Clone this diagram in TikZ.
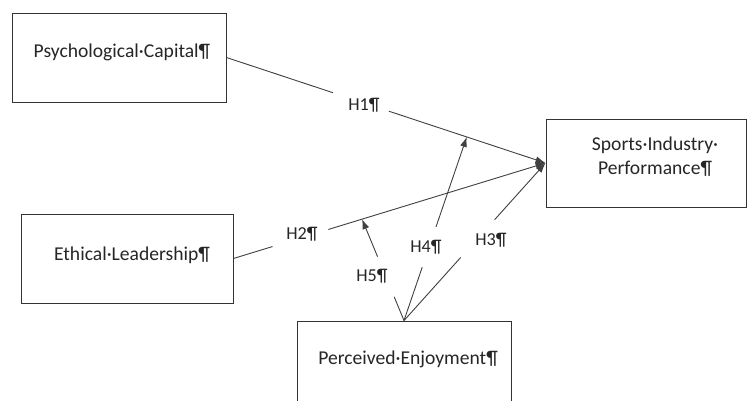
\documentclass[tikz,border=0pt]{standalone}
\usepackage{fontspec}
\setmainfont{Carlito}
\usetikzlibrary{calc,arrows.meta}
\begin{document}
\begin{tikzpicture}[x=1pt,y=-1pt,
  box/.style={draw=black!80, line width=0.9pt, inner sep=0pt},
  txt/.style={inner sep=0pt, font=\fontsize{19.6}{24}\selectfont, text=black!85},
  hlab/.style={inner sep=0pt, font=\fontsize{18.2}{20}\selectfont, text=black!85},
  link/.style={draw=black!75, line width=0.9pt},
  arr/.style={link, -{Latex[length=10pt,width=7pt]}}]
\clip (0,0) rectangle (747,401);
\path[fill=white] (0,0) rectangle (747,401);
% boxes
\node[box, minimum width=214pt, minimum height=89pt] (pc) at (119,57.5) {};
\node[box, minimum width=200pt, minimum height=88pt] (si) at (646,163) {};
\node[box, minimum width=212pt, minimum height=89pt] (el) at (127,258.5) {};
\node[box, minimum width=214pt, minimum height=89pt] (pe) at (404,365.5) {};
% texts
\node[txt] (pct) at (122,52) {Psychological·Capital¶};
\node[txt, align=center] (sit) at (655,157) {Sports·Industry·\\Performance¶};
\node[txt] (elt) at (132,255) {Ethical·Leadership¶};
\node[txt] (pet) at (408,359) {Perceived·Enjoyment¶};
% labels
\node[hlab] (h1) at (364,105) {H1¶};
\node[hlab] (h2) at (302,234) {H2¶};
\node[hlab] (h3) at (491,240) {H3¶};
\node[hlab] (h4) at (426,247) {H4¶};
\node[hlab] (h5) at (372,276) {H5¶};
% tips
\coordinate (h4tip) at ($(pc.east)!0.753!(si.west)$);
\coordinate (h5tip) at ($(el.east)!0.412!(si.west)$);
% connectors
\draw[link] (pc.east) -- ($(pc.east)!0.334!(si.west)$);
\draw[arr] ($(pc.east)!0.509!(si.west)$) -- (si.west);
\draw[link] (el.east) -- ($(el.east)!0.125!(si.west)$);
\draw[arr] ($(el.east)!0.304!(si.west)$) -- (si.west);
\draw[link] (pe.north) -- ($(pe.north)!0.40!(si.west)$);
\draw[arr] ($(pe.north)!0.64!(si.west)$) -- (si.west);
\draw[link] (pe.north) -- ($(pe.north)!0.29!(h4tip)$);
\draw[arr] ($(pe.north)!0.51!(h4tip)$) -- (h4tip);
\draw[link] (pe.north) -- ($(pe.north)!0.235!(h5tip)$);
\draw[arr] ($(pe.north)!0.63!(h5tip)$) -- (h5tip);
\end{tikzpicture}
\end{document}
